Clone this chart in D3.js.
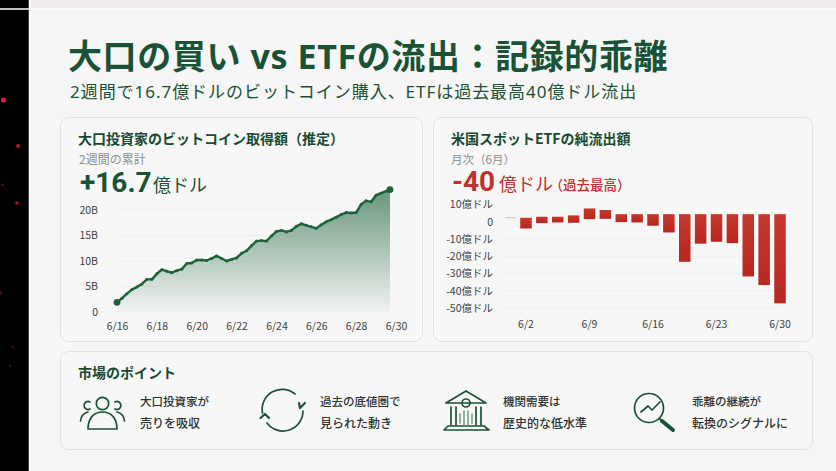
<!DOCTYPE html>
<html>
<head>
<meta charset="utf-8">
<script src="https://cdn.jsdelivr.net/npm/d3@7"></script>
<style>
  html, body { margin: 0; padding: 0; background: #000; }
  svg { display: block; }
  text { font-family: "Noto Sans CJK JP", "Noto Sans", sans-serif; }
  .axis text { font-family: "Noto Sans CJK JP", sans-serif; }
  .big-number { font-family: Roboto, "Noto Sans", sans-serif; }
  .heading { font-family: "Noto Sans", "Noto Sans CJK JP", sans-serif; }
</style>
</head>
<body>
<div id="chart"></div>
<script>
// Whale purchases, cumulative, in billions as labelled on the axis
var lineDays = [16, 16.25, 16.5, 16.75, 17, 17.25, 17.5, 17.75, 18, 18.25, 18.5, 18.75, 19, 19.25,
  19.5, 19.75, 20, 20.25, 20.5, 20.75, 21, 21.25, 21.5, 21.75, 22, 22.25, 22.5, 22.75, 23, 23.25,
  23.5, 23.75, 24, 24.25, 24.5, 24.75, 25, 25.25, 25.5, 25.75, 26, 26.25, 26.5, 26.75, 27, 27.25,
  27.5, 27.75, 28, 28.25, 28.5, 28.75, 29, 29.25, 29.5, 29.7];
var lineValues = [1.9, 2.7, 3.6, 4.4, 4.9, 5.5, 6.4, 6.4, 7.5, 8.3, 8.0, 7.7, 8.1, 8.4,
  9.5, 9.6, 10.2, 10.2, 10.1, 10.5, 11.0, 10.5, 10.0, 10.3, 10.6, 11.5, 12.0, 13.0, 13.9, 14.0,
  13.9, 14.9, 15.8, 16.0, 15.7, 16.0, 16.8, 17.3, 17.0, 16.7, 16.4, 17.1, 17.7, 18.1, 18.6, 19.1,
  19.5, 19.4, 19.5, 21.1, 21.8, 21.6, 22.9, 23.3, 23.7, 24.0];
var lineXTicks = [16, 18, 20, 22, 24, 26, 28, 30];
var lineYTicks = [0, 5, 10, 15, 20];
var lineYLabels = ['0', '5B', '10B', '15B', '20B'];

// ETF flows: each bar hangs between two values of the printed axis
var barDays = ['6/2', '6/4', '6/5', '6/7', '6/9', '6/10', '6/12', '6/13', '6/16', '6/17', '6/18',
  '6/20', '6/23', '6/24', '6/25', '6/27', '6/30'];
var barTops = [2.3, 2.9, 2.9, 3.7, 7.7, 6.8, 4.4, 4.4, 4.4, 4.4, 4.4, 4.4, 4.4, 4.4, 4.4, 4.4, 4.4];
var barBottoms = [-3.9, -0.8, -0.4, -0.6, 1.5, 1.7, -0.2, -0.4, -2.3, -6.2, -23.2, -12.7, -11.6,
  -12.4, -31.7, -36.7, -47.3];
var barXTicks = ['6/2', '6/9', '6/16', '6/23', '6/30'];
var barYTicks = [10, 0, -10, -20, -30, -40, -50];
var barYLabels = ['10億ドル', '0', '-10億ドル', '-20億ドル', '-30億ドル', '-40億ドル', '-50億ドル'];

var points = [
  ['大口投資家が', '売りを吸収'],
  ['過去の底値圏で', '見られた動き'],
  ['機関需要は', '歴史的な低水準'],
  ['乖離の継続が', '転換のシグナルに']
];

var sparks = [[3.5, 100, 2.6, 0.9], [18, 146, 2, 0.75], [2.5, 185, 1.2, 0.4], [17, 203, 1.8, 0.65],
  [0.5, 293, 1.4, 0.4], [13, 347, 1.2, 0.3], [10, 366, 1.2, 0.25]];

var green = '#1a5236';
var darkGreen = '#174a31';
var red = '#c0322c';

var svg = d3.select('#chart').append('svg')
    .attr('width', 836)
    .attr('height', 471);

var defs = svg.append('defs');

var areaGrad = defs.append('linearGradient')
    .attr('id', 'areaGrad')
    .attr('gradientUnits', 'userSpaceOnUse')
    .attr('x1', 0).attr('x2', 0).attr('y1', 188).attr('y2', 312);
areaGrad.append('stop').attr('offset', 0).attr('stop-color', '#5f8f72').attr('stop-opacity', 0.95);
areaGrad.append('stop').attr('offset', 1).attr('stop-color', '#5f8f72').attr('stop-opacity', 0.04);

var barGrad = defs.append('linearGradient')
    .attr('id', 'barGrad')
    .attr('x1', 0).attr('x2', 0).attr('y1', 0).attr('y2', 1);
barGrad.append('stop').attr('offset', 0).attr('stop-color', '#c4392f');
barGrad.append('stop').attr('offset', 1).attr('stop-color', '#b9261f');

function addText(parent, x, y, str, size, weight, color, spacing) {
  return parent.append('text')
      .attr('x', x)
      .attr('y', y)
      .attr('font-size', size)
      .attr('font-weight', weight)
      .attr('fill', color)
      .attr('letter-spacing', spacing || 0)
      .text(str);
}

function addCard(x, y, w, h) {
  svg.append('rect')
      .attr('x', x + 0.5)
      .attr('y', y + 0.5)
      .attr('width', w)
      .attr('height', h)
      .attr('rx', 8)
      .attr('fill', '#f7f7f7')
      .attr('stroke', '#dfe3e0');
}

// Backdrop: the dark strip at the left and the page sheet
svg.append('rect').attr('x', 30).attr('y', 0).attr('width', 806).attr('height', 9).attr('fill', '#f0eceb');
svg.append('rect').attr('x', 29).attr('y', 9).attr('width', 807).attr('height', 462).attr('fill', '#f6f6f6');
svg.append('line')
    .attr('x1', 0).attr('x2', 836).attr('y1', 9).attr('y2', 9)
    .attr('stroke', '#fff').attr('stroke-width', 1.5);
svg.append('line')
    .attr('x1', 29.5).attr('x2', 29.5).attr('y1', 0).attr('y2', 471)
    .attr('stroke', '#fff').attr('stroke-width', 1.5);
svg.append('g').selectAll('circle')
    .data(sparks)
  .enter().append('circle')
    .attr('cx', function(d) { return d[0]; })
    .attr('cy', function(d) { return d[1]; })
    .attr('r', function(d) { return d[2]; })
    .attr('fill', '#f0243a')
    .attr('opacity', function(d) { return d[3]; });

// Heading
addText(svg, 68, 69, '大口の買い vs ETFの流出：記録的乖離', 34, 700, green, 0.6).attr('class', 'heading');
addText(svg, 70, 97.5, '2週間で16.7億ドルのビットコイン購入、ETFは過去最高40億ドル流出', 17, 400, green, 0.96).attr('class', 'heading');

addCard(60, 117, 362, 224);
addCard(433, 117, 379, 224);
addCard(60, 351, 752, 98);

// Left panel
addText(svg, 78, 144, '大口投資家のビットコイン取得額（推定）', 14, 700, darkGreen, 0);
addText(svg, 79, 163.5, '2週間の累計', 12, 400, '#8b908d', 0);
addText(svg, 80, 192, '+16.7', 28, 700, green, 0).attr('class', 'big-number');
addText(svg, 153, 192, '億ドル', 18, 400, green, 0);

var lineX = d3.scaleLinear().domain([16, 30]).range([117, 396]);
var lineY = d3.scaleLinear().domain([0, 20]).range([312, 210]);

var lineRows = lineDays.map(function(d, i) { return {day: d, value: lineValues[i]}; });

svg.append('g')
    .selectAll('line')
    .data(lineYTicks)
  .enter().append('line')
    .attr('x1', 117)
    .attr('x2', 396)
    .attr('y1', function(d) { return lineY(d); })
    .attr('y2', function(d) { return lineY(d); })
    .attr('stroke', '#efefee');

var area = d3.area()
    .x(function(d) { return lineX(d.day); })
    .y0(lineY(0))
    .y1(function(d) { return lineY(d.value); });

var line = d3.line()
    .x(function(d) { return lineX(d.day); })
    .y(function(d) { return lineY(d.value); });

svg.append('path')
    .datum(lineRows)
    .attr('d', area)
    .attr('fill', 'url(#areaGrad)');

svg.append('path')
    .datum(lineRows)
    .attr('d', line)
    .attr('fill', 'none')
    .attr('stroke', '#1d6238')
    .attr('stroke-width', 2.4)
    .attr('stroke-linejoin', 'round');

// the line has small knots along it, bigger at both ends
svg.append('g')
    .selectAll('circle')
    .data(lineRows)
  .enter().append('circle')
    .attr('cx', function(d) { return lineX(d.day); })
    .attr('cy', function(d) { return lineY(d.value); })
    .attr('r', function(d, i) { return i === 0 || i === lineRows.length - 1 ? 3.4 : 1.5; })
    .attr('fill', '#1d6238');

svg.append('g')
    .attr('class', 'axis')
    .attr('transform', 'translate(98,0)')
    .call(d3.axisLeft(lineY)
      .tickValues(lineYTicks)
      .tickFormat(function(d, i) { return lineYLabels[i]; })
      .tickSize(0)
      .tickPadding(0));

svg.append('g')
    .attr('class', 'axis')
    .attr('transform', 'translate(0,320)')
    .call(d3.axisBottom(lineX)
      .tickValues(lineXTicks)
      .tickFormat(function(d) { return '6/' + d; })
      .tickSize(0)
      .tickPadding(3));

// Right panel
addText(svg, 451, 144, '米国スポットETFの純流出額', 14, 700, darkGreen, 0);
addText(svg, 451, 163.5, '月次（6月）', 11.5, 400, '#8b908d', 0);
addText(svg, 452, 190.5, '-40', 28, 700, red, 0).attr('class', 'big-number');
addText(svg, 499, 190.5, '億ドル', 18, 400, red, 0);
addText(svg, 549.5, 189.5, '（過去最高）', 13.5, 500, red, 0);

var barX = d3.scaleBand()
    .domain(barDays)
    .range([518, 788])
    .paddingInner(0.275)
    .paddingOuter(0.14);
var barY = d3.scaleLinear().domain([-50, 10]).range([308, 204.5]);

svg.append('g')
    .selectAll('line')
    .data(barYTicks.filter(function(d) { return d < 0; }))
  .enter().append('line')
    .attr('x1', 503)
    .attr('x2', 788)
    .attr('y1', function(d) { return barY(d); })
    .attr('y2', function(d) { return barY(d); })
    .attr('stroke', '#efefee');

// short stub left of the first bar
svg.append('line')
    .attr('x1', 505)
    .attr('x2', 516)
    .attr('y1', barY(barTops[0]))
    .attr('y2', barY(barTops[0]))
    .attr('stroke', '#cdbfb8');

svg.append('g')
    .selectAll('rect')
    .data(barDays)
  .enter().append('rect')
    .attr('x', function(d) { return barX(d); })
    .attr('y', function(d, i) { return barY(barTops[i]); })
    .attr('width', barX.bandwidth())
    .attr('height', function(d, i) { return barY(barBottoms[i]) - barY(barTops[i]); })
    .attr('fill', 'url(#barGrad)');

svg.append('g')
    .attr('class', 'axis')
    .attr('transform', 'translate(493,0)')
    .call(d3.axisLeft(barY)
      .tickValues(barYTicks)
      .tickFormat(function(d, i) { return barYLabels[i]; })
      .tickSize(0)
      .tickPadding(0));

svg.append('g')
    .attr('class', 'axis')
    .attr('transform', 'translate(0,318)')
    .call(d3.axisBottom(barX)
      .tickValues(barXTicks)
      .tickSize(0)
      .tickPadding(3));

svg.selectAll('.axis .domain').remove();
svg.selectAll('.axis text')
    .attr('font-size', 10.5)
    .attr('fill', '#3d4240');

// Bottom panel
addText(svg, 78, 378, '市場のポイント', 14, 700, darkGreen, 0);

var pointX = [140, 320, 503, 692];
points.forEach(function(p, i) {
  addText(svg, pointX[i], 405.5, p[0], 11.5, 500, '#2c3330', 0);
  addText(svg, pointX[i], 427.5, p[1], 12, 500, '#2c3330', 0);
});

var icons = svg.append('g')
    .attr('fill', 'none')
    .attr('stroke', green)
    .attr('stroke-width', 1.7)
    .attr('stroke-linecap', 'round')
    .attr('stroke-linejoin', 'round');

// people
icons.append('circle').attr('cx', 102.5).attr('cy', 403.5).attr('r', 6.2);
icons.append('path').attr('d', 'M88 429 C88 418 94 412 102.5 412 C111 412 117 418 117 429 Z');
icons.append('path').attr('d', 'M90 402 A4 4 0 1 0 90 409');
icons.append('path').attr('d', 'M115 402 A4 4 0 1 1 115 409');
icons.append('path').attr('d', 'M80.5 421 C81 416 84 413 88 412');
icons.append('path').attr('d', 'M124.5 421 C124 416 121 413 117 412');

// cycle
icons.append('path').attr('d', 'M262.5 413 A20 20 0 0 1 295 394');
icons.append('path').attr('d', 'M303 411 A20 20 0 0 1 267 423');
icons.append('path').attr('d', 'M299 403 L300 408 L305 403').attr('stroke-width', 2.2);
icons.append('path').attr('d', 'M260.5 418 L265 414 L269 418').attr('stroke-width', 2.2);

// bank
icons.append('path').attr('d', 'M446 403 L466 391 L486 403 Z');
icons.append('circle').attr('cx', 466).attr('cy', 403).attr('r', 4);
icons.append('path').attr('d', 'M451 407 V425 M456 407 V425 M476 407 V425 M481 407 V425');
icons.append('path').attr('d', 'M444 430 L448 426 H484 L489 430 Z');
icons.append('path').attr('d', 'M460 414 V423 M464 411 V425 M468 411 V425 M472 414 V423')
    .attr('stroke', '#7fa78e');

// magnifier
icons.append('circle').attr('cx', 649).attr('cy', 408).attr('r', 14.5);
icons.append('path').attr('d', 'M641 412 L648 406 L652 410 L660 402');
icons.append('path').attr('d', 'M659.5 418.5 L662 421').attr('stroke-width', 2);
icons.append('path').attr('d', 'M662 421 L673 430').attr('stroke-width', 4);
</script>
</body>
</html>
